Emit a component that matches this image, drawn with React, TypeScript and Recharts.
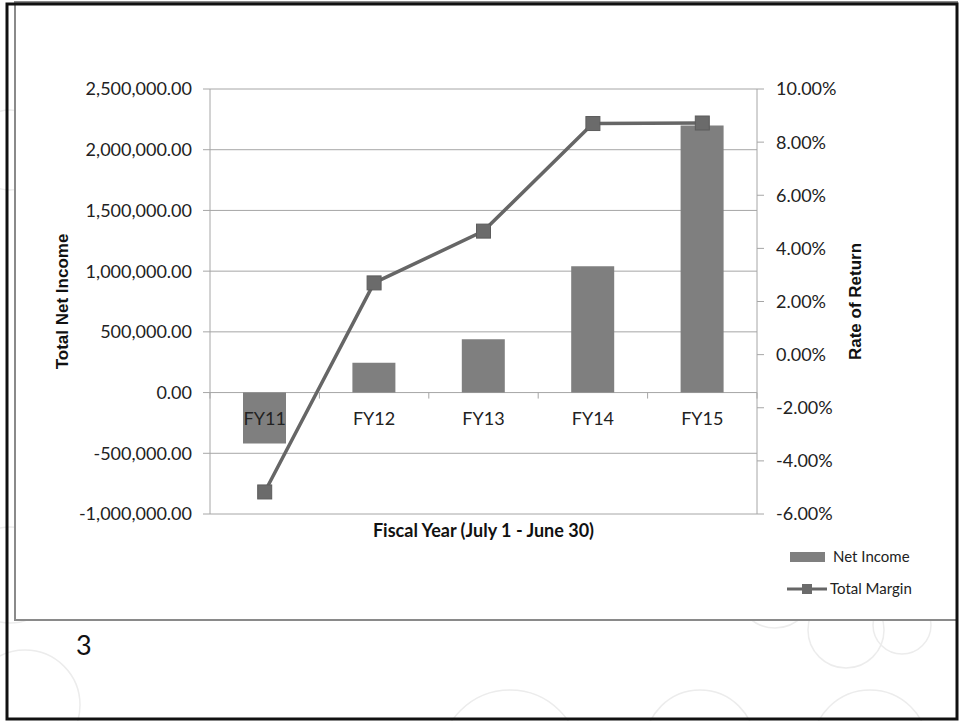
import React from 'react'
import {
  Bar,
  CartesianGrid,
  ComposedChart,
  Legend,
  Line,
  XAxis,
  YAxis,
} from 'recharts'

// chart data
const categories = ['FY11', 'FY12', 'FY13', 'FY14', 'FY15']
const netIncome = [-420000, 245000, 440000, 1040000, 2200000]
const totalMargin = [-5.17, 2.7, 4.65, 8.7, 8.72]
const incomeTicks = [-1000000, -500000, 0, 500000, 1000000, 1500000, 2000000, 2500000]
const marginTicks = [-6, -4, -2, 0, 2, 4, 6, 8, 10]

const data = categories.map((fy, i) => ({
  fy,
  income: netIncome[i],
  margin: totalMargin[i],
}))

// layout
const W = 959
const H = 721
const PLOT_TOP = 89
const PLOT_H = 425
const LEFT_W = 210
const RIGHT_W = 202
const XAXIS_H = 40
const PLOT_W = W - LEFT_W - RIGHT_W
const BAND = PLOT_W / categories.length
const INCOME_MIN = incomeTicks[0]
const INCOME_MAX = incomeTicks[incomeTicks.length - 1]
const ZERO_Y = PLOT_TOP + (PLOT_H * INCOME_MAX) / (INCOME_MAX - INCOME_MIN)

const FONT = 'Lato, "Open Sans", sans-serif'
const TITLE_FONT = '"Liberation Sans", Arial, sans-serif'
const AXIS_GRAY = '#a6a6a6'
const BAR_FILL = '#7f7f7f'
const LINE_STROKE = '#666666'
const MARKER_FILL = '#6b6b6b'

const fmtIncome = (v: number) =>
  v.toLocaleString('en-US', { minimumFractionDigits: 2, maximumFractionDigits: 2 })
const fmtPct = (v: number) => `${v.toFixed(2)}%`

// category labels sit on the zero line like Excel does
const CategoryTick = (props: any) => {
  const { x, payload, index } = props
  const last = index === categories.length - 1
  return (
    <g>
      <text
        x={x}
        y={ZERO_Y + 32}
        textAnchor='middle'
        fontFamily={FONT}
        fontSize={18}
        fill='#222'
      >
        {payload.value}
      </text>
      <line x1={x - BAND / 2} x2={x - BAND / 2} y1={ZERO_Y} y2={ZERO_Y + 6} stroke={AXIS_GRAY} />
      {last && (
        <line x1={x + BAND / 2} x2={x + BAND / 2} y1={ZERO_Y} y2={ZERO_Y + 6} stroke={AXIS_GRAY} />
      )}
    </g>
  )
}

const SquareDot = (props: any) => {
  const { cx, cy } = props
  if (cx == null || cy == null) return null
  return (
    <rect
      x={cx - 7}
      y={cy - 7}
      width={14}
      height={14}
      fill={MARKER_FILL}
      stroke='#5c5c5c'
      strokeWidth={1}
    />
  )
}

const LegendBox = () => (
  <svg width={150} height={60} style={{ overflow: 'visible' }}>
    <rect x={5} y={7} width={35} height={10} fill={BAR_FILL} />
    <text x={48} y={17} fontFamily={FONT} fontSize={15} fill='#222'>
      Net Income
    </text>
    <line x1={2} x2={42} y1={44} y2={44} stroke={LINE_STROKE} strokeWidth={3} />
    <rect x={17} y={39} width={10} height={10} fill={MARKER_FILL} />
    <text x={45} y={49} fontFamily={FONT} fontSize={15} fill='#222'>
      Total Margin
    </text>
  </svg>
)

const AxisTitle = ({ x, y, text }: { x: number; y: number; text: string }) => (
  <text
    x={x}
    y={y}
    transform={`rotate(-90 ${x} ${y})`}
    textAnchor='middle'
    dominantBaseline='central'
    fontFamily={TITLE_FONT}
    fontWeight='bold'
    fontSize={17}
    fill='#111'
  >
    {text}
  </text>
)

// faint slide decoration
const circles = [
  { cx: 10, cy: 575, r: 48 },
  { cx: 25, cy: 705, r: 55 },
  { cx: 10, cy: 150, r: 40 },
  { cx: 700, cy: 745, r: 55 },
  { cx: 870, cy: 748, r: 58 },
  { cx: 846, cy: 630, r: 38 },
  { cx: 902, cy: 625, r: 29 },
  { cx: 775, cy: 590, r: 38 },
  { cx: 510, cy: 760, r: 70 },
]

export default function App() {
  return (
    <div style={{ position: 'absolute', left: 0, top: 0, width: W, height: H, background: '#fff' }}>
      <svg width={W} height={H} style={{ position: 'absolute', left: 0, top: 0 }}>
        {circles.map((c, i) => (
          <circle key={i} cx={c.cx} cy={c.cy} r={c.r} fill='none' stroke='#ececec' strokeWidth={1.5} />
        ))}
        <rect x={15} y={2} width={942} height={618} fill='#fff' stroke='#8a8a8a' strokeWidth={2} />
      </svg>
      <div style={{ position: 'absolute', left: 0, top: 0 }}>
        <ComposedChart
          width={W}
          height={H}
          data={data}
          margin={{ top: PLOT_TOP, right: 0, bottom: H - PLOT_TOP - PLOT_H - XAXIS_H, left: 0 }}
        >
          <CartesianGrid yAxisId='left' vertical={false} stroke={AXIS_GRAY} />
          <YAxis
            yAxisId='left'
            orientation='left'
            width={LEFT_W}
            domain={[INCOME_MIN, INCOME_MAX]}
            ticks={incomeTicks}
            tickFormatter={fmtIncome}
            tick={{ fontFamily: FONT, fontSize: 18, fill: '#222' }}
            tickSize={7}
            tickMargin={11}
            stroke={AXIS_GRAY}
            interval={0}
            label={{
              content: ({ viewBox }: any) => (
                <AxisTitle
                  x={viewBox.x + 62}
                  y={viewBox.y + viewBox.height / 2}
                  text='Total Net Income'
                />
              ),
            }}
          />
          <YAxis
            yAxisId='right'
            orientation='right'
            width={RIGHT_W}
            domain={[marginTicks[0], marginTicks[marginTicks.length - 1]]}
            ticks={marginTicks}
            tickFormatter={fmtPct}
            tick={{ fontFamily: FONT, fontSize: 18, fill: '#222', textAnchor: 'start' }}
            tickSize={7}
            tickMargin={12}
            stroke={AXIS_GRAY}
            interval={0}
            label={{
              content: ({ viewBox }: any) => (
                <AxisTitle
                  x={viewBox.x + 98}
                  y={viewBox.y + viewBox.height / 2}
                  text='Rate of Return'
                />
              ),
            }}
          />
          <Bar
            yAxisId='left'
            dataKey='income'
            name='Net Income'
            fill={BAR_FILL}
            barSize={43}
            isAnimationActive={false}
          />
          <Line
            yAxisId='right'
            dataKey='margin'
            name='Total Margin'
            type='linear'
            stroke={LINE_STROKE}
            strokeWidth={3.5}
            dot={<SquareDot />}
            activeDot={false}
            isAnimationActive={false}
          />
          <XAxis
            dataKey='fy'
            height={XAXIS_H}
            axisLine={false}
            tickLine={false}
            tick={<CategoryTick />}
            interval={0}
            label={{
              content: ({ viewBox }: any) => (
                <text
                  x={viewBox.x + viewBox.width / 2}
                  y={viewBox.y + 23}
                  textAnchor='middle'
                  fontFamily={FONT}
                  fontWeight='bold'
                  fontSize={18}
                  fill='#111'
                >
                  Fiscal Year (July 1 - June 30)
                </text>
              ),
            }}
          />
          <Legend
            layout='horizontal'
            verticalAlign='middle'
            content={<LegendBox />}
            wrapperStyle={{ left: 785, top: 545, width: 150, height: 60 }}
          />
        </ComposedChart>
      </div>
      <div
        style={{
          position: 'absolute',
          left: 76,
          top: 628,
          fontFamily: FONT,
          fontSize: 27,
          color: '#111',
        }}
      >
        3
      </div>
      <svg width={W} height={H} style={{ position: 'absolute', left: 0, top: 0, pointerEvents: 'none' }}>
        <rect x={7} y={4} width={950} height={715} fill='none' stroke='#111' strokeWidth={3} />
      </svg>
    </div>
  )
}
